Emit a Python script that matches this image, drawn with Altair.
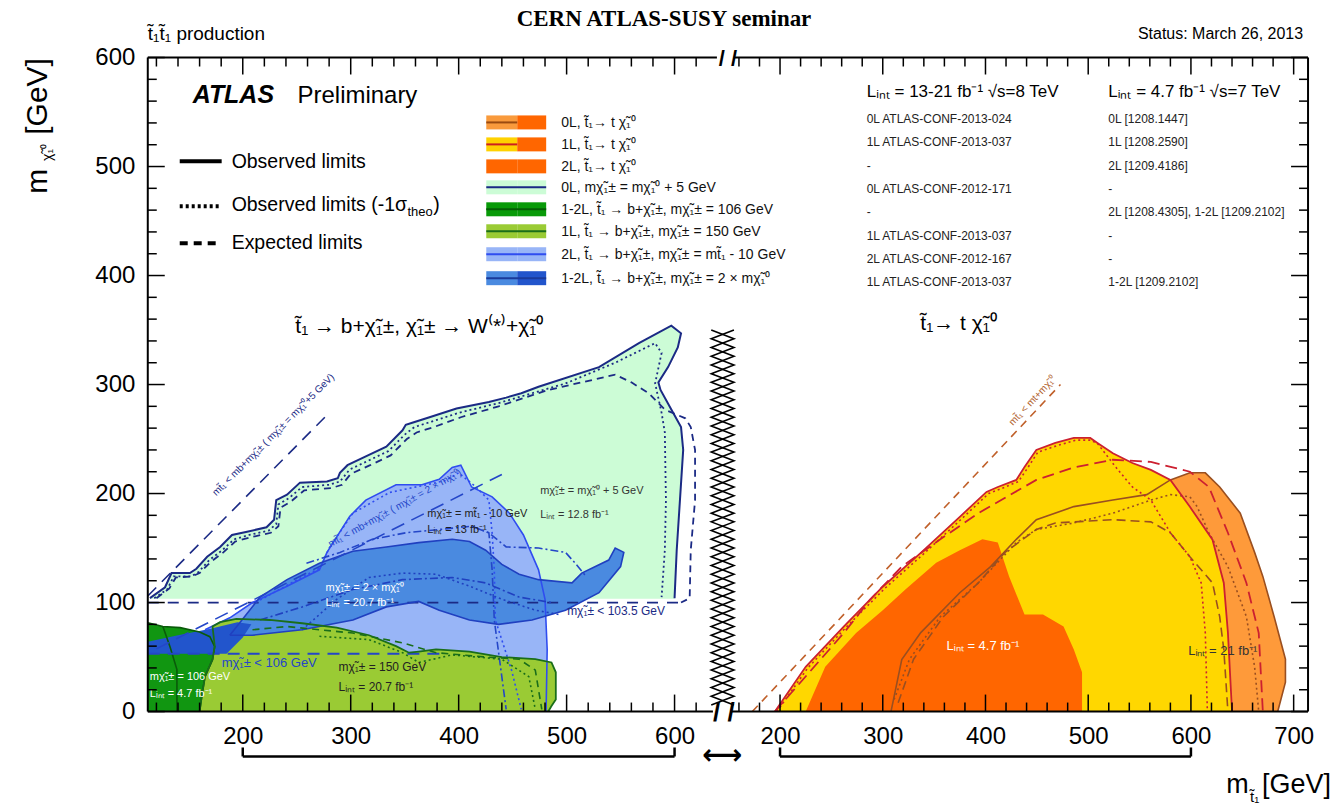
import altair as alt
import pandas as pd

SANS = "Liberation Sans"
SERIF = "Liberation Serif"

# ---------------------------------------------------------------------------
# Left panel: stop -> b + chargino, (m_stop, m_lsp) in GeV
# ---------------------------------------------------------------------------
# 0L, m(chargino) = m(LSP) + 5 GeV  (light green)
GREEN0L_OBS = [(114, 104), (128, 114), (134, 127), (142, 127), (151, 127), (157, 131), (167, 142),
               (179, 151), (190, 162), (204, 165), (222, 169), (229, 176), (231, 194), (241, 199),
               (253, 210), (278, 211), (288, 214), (290, 219), (297, 226), (314, 234), (333, 243),
               (348, 258), (351, 263), (357, 265), (373, 270), (398, 278), (428, 284), (444, 288),
               (458, 292), (474, 298), (530, 316), (567, 338), (597, 354), (606, 347), (603, 334),
               (594, 316), (585, 302), (587, 295), (597, 277), (606, 261), (608, 240), (605, 194),
               (602, 148), (600, 104)]
GREEN0L_FILL_BASE = [(600, 103.5), (114, 103.5)]
GREEN0L_M1S = [(118, 104), (130, 112), (136, 124), (152, 124), (159, 128), (169, 139), (181, 148),
               (192, 158), (206, 162), (224, 166), (231, 172), (233, 190), (243, 196), (255, 206),
               (280, 208), (290, 211), (299, 222), (316, 230), (335, 239), (350, 254), (359, 261),
               (375, 266), (400, 274), (437, 283), (499, 301), (545, 320), (582, 338), (588, 329),
               (582, 301), (588, 274), (591, 256), (592, 194), (591, 148), (588, 105)]
GREEN0L_EXP = [(120, 104), (132, 113), (138, 123), (153, 124), (160, 127), (170, 137), (182, 146),
               (193, 156), (208, 160), (226, 164), (233, 170), (235, 187), (245, 193), (257, 203),
               (282, 205), (292, 208), (300, 218), (318, 226), (337, 235), (352, 250), (361, 256),
               (377, 261), (402, 270), (437, 280), (483, 295), (514, 302), (545, 309), (560, 302),
               (576, 292), (591, 277), (610, 269), (615, 261), (619, 240), (619, 194), (615, 148),
               (614, 104), (606, 100)]
LEP_CHARGINO_0L = [(112, 100), (606, 100)]
KIN_0L = [(112, 106), (280, 274)]

# 2L, m(chargino) = m(stop) - 10 GeV  (light blue)
LB_OBS = [(165, 75), (188, 86), (209, 100), (241, 115), (271, 130), (278, 146), (299, 179),
          (314, 194), (342, 208), (366, 208), (382, 213), (394, 224), (402, 226), (412, 206),
          (431, 197), (447, 182), (460, 162), (474, 130), (480, 103), (482, 57), (481, 0)]
LB_FILL_BASE = [(253, 0)]
LB_M1S = [(212, 100), (245, 118), (272, 132), (280, 150), (302, 182), (336, 201), (370, 208),
          (388, 212), (400, 219), (416, 206), (428, 194), (431, 164), (433, 130), (434, 84),
          (449, 38), (458, 2)]
LB_EXP = [(259, 136), (290, 146), (320, 158), (351, 164), (382, 167), (412, 170), (428, 164),
          (444, 151), (474, 150), (499, 146), (508, 136), (518, 124)]
LB_EXP_B = [(412, 170), (428, 164), (431, 130), (433, 84), (444, 2)]

# 1-2L, m(chargino) = 2 x m(LSP)  (medium blue)
MB_OBS = [(188, 70), (216, 105), (241, 121), (271, 136), (302, 147), (333, 151), (363, 155),
          (394, 158), (410, 156), (425, 148), (440, 135), (456, 126), (474, 121), (505, 118),
          (514, 127), (539, 139), (545, 150), (553, 146), (550, 133), (530, 109), (499, 93),
          (468, 84), (437, 80), (410, 84), (382, 93), (363, 101), (333, 96), (302, 84),
          (255, 75), (209, 70)]
MB_M1S = [(255, 75), (287, 103), (317, 123), (348, 127), (379, 126), (410, 115), (440, 103),
          (471, 93), (493, 89)]
MB_EXP = [(216, 84), (255, 96), (302, 112), (348, 121), (394, 123), (425, 118), (456, 105),
          (486, 100)]
LEP_CHARGINO_2X = [(112, 53), (385, 53)]
KIN_2X = [(120, 57.5), (440, 217.5)]
DB_7TEV = [(112, 53), (112, 64), (140, 70), (170, 76), (195, 82), (208, 80), (200, 68), (185, 53)]

# 1-2L, m(chargino) = 106 GeV, 4.7 fb-1 (dark green)
DG_OBS = [(112, 81.5), (126, 78), (142, 77), (160, 73), (169.5, 68.7), (174, 59.5), (172, 47.6),
          (165, 32), (162, 14), (160, 0), (112, 0)]
DG_INNER = [(126, 78), (132.6, 59.5), (139, 38.5), (139, 0)]

# 1L, m(chargino) = 150 GeV (yellow-green)
YG_OBS = [(160, 0), (162, 14), (165, 32), (172, 48), (174, 60), (172, 78), (179, 82), (194, 85),
          (225, 84), (255, 81), (287, 77), (317, 70), (342, 60), (354, 54), (363, 55), (379, 57),
          (410, 55), (440, 50), (471, 48), (486, 45), (490, 36), (490, 11), (486, 5), (483, 0)]
YG_EXP = [(209, 75), (241, 78), (271, 75), (302, 72), (348, 63), (379, 54), (425, 50), (456, 48),
          (471, 38), (477, 2)]
YG_M1S = [(271, 69), (317, 66), (348, 54), (363, 45), (394, 52), (440, 48), (465, 32), (471, 2)]

# ---------------------------------------------------------------------------
# Right panel: stop -> t + LSP
# ---------------------------------------------------------------------------
OR0L_OBS = [(308, 0), (318.5, 47.6), (337, 72.4), (375, 109), (405, 133), (430, 158),
            (449.5, 176), (486, 188), (524, 194), (557, 199), (580, 212.5), (599, 219),
            (614, 219), (628, 206), (648, 182), (662, 146), (670, 124), (681, 87), (692, 48),
            (692, 27), (684.5, 0)]
OR0L_M1S = [(311, 11), (326, 48), (356, 87), (393, 118), (430, 155), (449.5, 167), (486, 173),
            (524, 182), (561, 194), (580, 199), (599, 197), (606, 188), (617.5, 164), (636, 133),
            (654, 87), (662, 41), (666, 0)]
OR0L_EXP = [(315, 8), (330, 48), (359, 87), (393, 118), (419, 146), (449.5, 167), (468, 173),
            (524, 176), (561, 174), (580, 164), (599, 142), (621, 118), (628, 87), (632, 57),
            (636, 0)]
YE1L_OBS = [(195, 0), (225, 41), (262, 78), (300, 114.5), (337, 145.6), (375, 178.6),
            (401, 201.5), (412, 206), (430, 212.5), (438, 224.4), (449.5, 240), (468, 246.4),
            (486, 251), (502, 251), (509, 246.4), (524, 237), (543, 228), (561, 221.7),
            (580, 212.5), (599, 187.8), (621, 157.6), (632, 118), (636, 72.4), (640, 0)]
YE1L_M1S = [(197, 0), (227, 40), (264, 77), (302, 113), (339, 144), (377, 177), (403, 200),
            (414, 204), (432, 211), (440, 222), (451, 238), (470, 244), (488, 249), (502, 249),
            (509, 246), (527, 224), (543, 206), (561, 194), (580, 164), (599, 142), (610, 118),
            (614, 72), (616, 0)]
YE1L_EXP = [(195, 0), (262, 72), (288, 103), (318.5, 133), (356, 158), (393, 182),
            (449.5, 212.5), (486, 224), (524, 231), (561, 229), (599, 220), (617.5, 206),
            (636, 164), (654, 118), (666, 72), (670, 0)]
DO_7TEV = [(225, 0), (244, 41), (274, 72), (300, 93), (322, 112), (352, 136.5), (375, 148),
           (397, 158), (412, 155), (423, 124), (438, 89), (456, 89), (476, 78), (486, 57),
           (494, 36), (494, 0)]
KIN_TOP = [(173, 0), (473, 300)]

# axis ticks
LEFT_MAJOR = [200, 300, 400, 500, 600]
LEFT_MINOR = [v for v in range(120, 640, 20) if v % 100]
RIGHT_MAJOR = [200, 300, 400, 500, 600, 700]
RIGHT_MINOR = [v for v in range(160, 714, 20) if v % 100]
Y_MAJOR = [0, 100, 200, 300, 400, 500, 600]
Y_MINOR = [v for v in range(20, 600, 20) if v % 100]

# legend of the coloured bands: (left colour, right colour, line colour, line over left half only)
LEGEND_SWATCH = [
    ("#f99a3c", "#ff6600", "#9a4a10", True),
    ("#ffd200", "#ff6600", "#cc2020", True),
    ("#ff6600", "#ff6600", None, False),
    ("#ccfcd6", "#ccfcd6", "#1b2a85", False),
    ("#089a08", "#089a08", "#045c04", False),
    ("#9acb34", "#9acb34", "#1a6e1a", False),
    ("#98b5f7", "#98b5f7", "#2f4df0", False),
    ("#4a8ae0", "#2255cc", "#1a3a9a", False),
]
LEGEND_TEXT = [
    "0L, t̃₁→ t χ̃₁⁰",
    "1L, t̃₁→ t χ̃₁⁰",
    "2L, t̃₁→ t χ̃₁⁰",
    "0L, mχ̃₁± = mχ̃₁⁰ + 5 GeV",
    "1-2L, t̃₁ → b+χ̃₁±, mχ̃₁± = 106 GeV",
    "1L, t̃₁ → b+χ̃₁±, mχ̃₁± = 150 GeV",
    "2L, t̃₁ → b+χ̃₁±, mχ̃₁± = mt̃₁ - 10 GeV",
    "1-2L, t̃₁ → b+χ̃₁±, mχ̃₁± = 2 × mχ̃₁⁰",
]
REF_8TEV = ["0L ATLAS-CONF-2013-024", "1L ATLAS-CONF-2013-037", "-", "0L ATLAS-CONF-2012-171",
            "-", "1L ATLAS-CONF-2013-037", "2L ATLAS-CONF-2012-167", "1L ATLAS-CONF-2013-037"]
REF_7TEV = ["0L [1208.1447]", "1L [1208.2590]", "2L [1209.4186]", "-",
            "2L [1208.4305], 1-2L [1209.2102]", "-", "-", "1-2L [1209.2102]"]

LEFT_W, RIGHT_W, H = 560, 572, 655
LEFT_DOMAIN = [112, 630]
RIGHT_DOMAIN = [158, 714]

NAVY = "#1b2a85"
BLUE = "#2f4df0"
BLUE2 = "#2446c8"
RED = "#cc2030"
BROWN = "#9a4f20"
DKGREEN = "#1a6e1a"

ONE = alt.Data(values=[{}])


def table(pts):
    return pd.DataFrame({"m_stop": [p[0] for p in pts],
                         "m_lsp": [p[1] for p in pts],
                         "k": list(range(len(pts)))})


def encoders(domain, x_values, show_y):
    label_style = dict(labelFont=SANS, labelFontSize=24, labelColor="black", ticks=False,
                       domain=False, grid=False, title=None, labelFlush=False)
    x = alt.X("m_stop:Q", scale=alt.Scale(domain=domain, nice=False, zero=False),
              axis=alt.Axis(values=x_values, labelPadding=13, **label_style))
    if show_y:
        yax = alt.Axis(values=Y_MAJOR, labelPadding=13, **label_style)
    else:
        yax = None
    y = alt.Y("m_lsp:Q", scale=alt.Scale(domain=[0, 600], nice=False, zero=False), axis=yax)
    return x, y


LX, LY = encoders(LEFT_DOMAIN, LEFT_MAJOR, True)
RX, RY = encoders(RIGHT_DOMAIN, RIGHT_MAJOR, False)


def region(pts, color, x, y):
    return alt.Chart(table(pts)).mark_line(
        interpolate="linear-closed", fill=color, strokeOpacity=0, clip=True
    ).encode(x=x, y=y, order="k:Q")


def curve(pts, color, x, y, width=1.6, dash=None, clip=True):
    kw = dict(color=color, strokeWidth=width, clip=clip)
    if dash:
        kw["strokeDash"] = dash
    return alt.Chart(table(pts)).mark_line(**kw).encode(x=x, y=y, order="k:Q")


def text(s, x, y, size=12, color="black", font=SANS, weight="normal", style="normal",
         align="left", baseline="alphabetic", angle=0):
    return alt.Chart(ONE).mark_text(
        text=s, x=x, y=y, fontSize=size, color=color, font=font, fontWeight=weight,
        fontStyle=style, align=align, baseline=baseline, angle=angle)


def hline(x1, x2, y, color="black", width=2.0, dash=None):
    kw = dict(color=color, strokeWidth=width)
    if dash:
        kw["strokeDash"] = dash
    return alt.Chart(ONE).mark_rule(**kw).encode(
        x=alt.value(x1), x2=alt.value(x2), y=alt.value(y))


def vline(x, y1, y2, color="black", width=2.0):
    return alt.Chart(ONE).mark_rule(color=color, strokeWidth=width).encode(
        x=alt.value(x), y=alt.value(y1), y2=alt.value(y2))


def xticks(vals, length, x, top):
    df = pd.DataFrame({"m_stop": vals})
    y1, y2 = (0, length) if top else (H, H - length)
    return alt.Chart(df).mark_rule(color="black", strokeWidth=1.5).encode(
        x=x, y=alt.value(y1), y2=alt.value(y2))


def yticks(vals, length, y, at_x, inward):
    df = pd.DataFrame({"m_lsp": vals})
    return alt.Chart(df).mark_rule(color="black", strokeWidth=1.5).encode(
        y=y, x=alt.value(at_x), x2=alt.value(at_x + inward * length))


def bracket(x, y_px):
    df = pd.DataFrame({"m_stop": [200], "m_end": [600]})
    bar = alt.Chart(df).mark_rule(color="black", strokeWidth=2.5).encode(
        x=x, x2="m_end:Q", y=alt.value(y_px))
    ends = alt.Chart(pd.DataFrame({"m_stop": [200, 600]})).mark_rule(
        color="black", strokeWidth=2.5).encode(x=x, y=alt.value(y_px - 9), y2=alt.value(y_px))
    return [bar, ends]


def anchor(x, y):
    return alt.Chart(ONE).mark_rect(opacity=0).encode(
        x=alt.value(x), x2=alt.value(x + 1), y=alt.value(y), y2=alt.value(y + 1))


# ---------------------------------------------------------------------------
# break marker between the two panels: column of crosses
# ---------------------------------------------------------------------------
ZZ_Y = list(range(6, 352, 8))
ZIG_A = [(634 if i % 2 == 0 else 655, v) for i, v in enumerate(ZZ_Y)]
ZIG_B = [(655 if i % 2 == 0 else 634, v) for i, v in enumerate(ZZ_Y)]

# ---------------------------------------------------------------------------
# left panel
# ---------------------------------------------------------------------------
left_layers = [
    anchor(-148, -57),
    region(GREEN0L_OBS + GREEN0L_FILL_BASE, "#ccfcd6", LX, LY),
    region(LB_OBS + LB_FILL_BASE, "#98b5f7", LX, LY),
    region(YG_OBS, "#9acb34", LX, LY),
    region(MB_OBS, "#4a8ae0", LX, LY),
    region(DG_OBS, "#119611", LX, LY),
    region(DB_7TEV, "#2255cc", LX, LY),
    curve(DG_INNER, "#0a5a0a", LX, LY, 1.6),
    curve(DG_OBS[:-1], "#0a5a0a", LX, LY, 1.6),
    curve(GREEN0L_OBS, NAVY, LX, LY, 2.0),
    curve(GREEN0L_M1S, NAVY, LX, LY, 1.8, [2, 3]),
    curve(GREEN0L_EXP, NAVY, LX, LY, 1.8, [7, 5]),
    curve(LEP_CHARGINO_0L, NAVY, LX, LY, 1.8, [11, 9]),
    curve(KIN_0L, NAVY, LX, LY, 1.6, [12, 8]),
    curve(LB_OBS, BLUE, LX, LY, 1.6),
    curve(LB_M1S, BLUE, LX, LY, 1.6, [2, 3]),
    curve(LB_EXP, BLUE2, LX, LY, 1.6, [8, 3, 2, 3]),
    curve(LB_EXP_B, BLUE2, LX, LY, 1.6, [8, 3, 2, 3]),
    curve(MB_OBS + MB_OBS[:1], "#2040c0", LX, LY, 1.6),
    curve(MB_M1S, "#2040c0", LX, LY, 1.6, [2, 3]),
    curve(MB_EXP, "#2040c0", LX, LY, 1.6, [8, 3, 2, 3]),
    curve(LEP_CHARGINO_2X, "#2446c8", LX, LY, 1.8, [12, 8]),
    curve(KIN_2X, "#2446c8", LX, LY, 1.6, [14, 8]),
    curve(YG_OBS, DKGREEN, LX, LY, 1.8),
    curve(YG_EXP, DKGREEN, LX, LY, 1.6, [7, 5]),
    curve(YG_M1S, DKGREEN, LX, LY, 1.6, [2, 3]),
    curve(ZIG_A, "black", LX, LY, 1.6, clip=False),
    curve(ZIG_B, "black", LX, LY, 1.6, clip=False),
]

# in-plot annotations, left panel
left_layers += [
    text("mχ̃₁± = mχ̃₁⁰ + 5 GeV", 393, 437, 11, "#333333"),
    text("Lᵢₙₜ = 12.8 fb⁻¹", 393, 461, 11, "#333333"),
    text("mχ̃₁± = mt̃₁ - 10 GeV", 280, 460, 11, "#222222"),
    text("Lᵢₙₜ = 13 fb⁻¹", 280, 476, 11, "#222222"),
    text("mχ̃₁± = 2 × mχ̃₁⁰", 178, 534, 11, "white"),
    text("Lᵢₙₜ = 20.7 fb⁻¹", 178, 549, 11, "white"),
    text("mχ̃₁± < 106 GeV", 74, 610, 13, "#2446c8"),
    text("mχ̃₁± = 150 GeV", 191, 614, 12, "#222222"),
    text("Lᵢₙₜ = 20.7 fb⁻¹", 191, 634, 12, "#222222"),
    text("mχ̃₁± = 106 GeV", 2, 623, 11, "white"),
    text("Lᵢₙₜ = 4.7 fb⁻¹", 2, 640, 11, "white"),
    text("mχ̃₁± < 103.5 GeV", 420, 558, 12, NAVY),
    text("mt̃₁ < mb+mχ̃₁± ( mχ̃₁± = mχ̃₁⁰+5 GeV)", 128, 380, 10, NAVY,
         align="center", angle=315),
    text("mt̃₁ < mb+mχ̃₁± ( mχ̃₁± = 2 × mχ̃₁⁰)", 249, 454, 10, "#2446c8",
         align="center", angle=331),
    text("t̃₁ → b+χ̃₁±, χ̃₁± → W⁽*⁾+χ̃₁⁰", 272, 276, 21, align="center"),
]

# header, legend, titles
left_layers += [
    text("t̃₁t̃₁ production", 0, -18, 19),
    text("CERN ATLAS-SUSY seminar", 517, -32, 23, font=SERIF, weight="bold", align="center"),
    text("ATLAS", 45, 46, 25, weight="bold", style="italic"),
    text("Preliminary", 150, 46, 24),
    hline(32, 74, 104, width=4),
    hline(32, 74, 149, width=4, dash=[3, 3]),
    hline(32, 74, 186, width=4, dash=[8, 6]),
    text("Observed limits", 84, 111, 19.5),
    text("Observed limits (-1σ", 84, 154, 19.5),
    text("theo", 260, 159, 13),
    text(")", 286, 154, 19.5),
    text("Expected limits", 84, 192, 19.5),
    text("[GeV]", -110, 39, 30, align="center", baseline="middle", angle=270),
    text("m", -110, 124, 30, align="center", baseline="middle", angle=270),
    text("χ̃₁⁰", -100, 95, 14, align="center", baseline="middle", angle=270),
]
ROW_Y = [65, 87, 109, 130, 152, 174, 197, 221]
for (lc, rc, line, half), label, yc in zip(LEGEND_SWATCH, LEGEND_TEXT, ROW_Y):
    left_layers.append(alt.Chart(ONE).mark_rect(color=lc).encode(
        x=alt.value(339), x2=alt.value(370), y=alt.value(yc - 7), y2=alt.value(yc + 7)))
    left_layers.append(alt.Chart(ONE).mark_rect(color=rc).encode(
        x=alt.value(370), x2=alt.value(399), y=alt.value(yc - 7), y2=alt.value(yc + 7)))
    if line:
        left_layers.append(hline(339, 370 if half else 399, yc, color=line, width=2))
    left_layers.append(text(label, 414, yc + 5, 14, "#111111"))

# frame, ticks, break symbols, bracket
left_layers += [
    vline(0, 0, H),
    hline(0, 566, H),
    hline(0, 570, 0),
    xticks(LEFT_MAJOR, 17, LX, False), xticks(LEFT_MINOR, 9, LX, False),
    xticks(LEFT_MAJOR, 17, LX, True), xticks(LEFT_MINOR, 9, LX, True),
    yticks(Y_MAJOR, 17, LY, 0, 1), yticks(Y_MINOR, 9, LY, 0, 1),
    text("/ /", 577, 656, 26, weight="bold", align="center", baseline="middle"),
    text("/ /", 581, 1, 22, weight="bold", align="center", baseline="middle"),
    text("⟷", 575, 700, 28, font="DejaVu Sans", weight="bold", align="center",
         baseline="middle"),
] + bracket(LX, 700)

# ---------------------------------------------------------------------------
# right panel
# ---------------------------------------------------------------------------
right_layers = [
    anchor(593, 752),
    region(OR0L_OBS, "#fe9a3a", RX, RY),
    region(YE1L_OBS, "#ffd700", RX, RY),
    region(DO_7TEV, "#ff6600", RX, RY),
    curve(OR0L_OBS, BROWN, RX, RY, 1.6),
    curve(OR0L_M1S, BROWN, RX, RY, 1.6, [2, 3]),
    curve(OR0L_EXP, BROWN, RX, RY, 1.6, [9, 5]),
    curve(YE1L_OBS, RED, RX, RY, 1.8),
    curve(YE1L_M1S, RED, RX, RY, 1.6, [2, 3]),
    curve(YE1L_EXP, RED, RX, RY, 1.8, [12, 6]),
    curve(KIN_TOP, "#c0602a", RX, RY, 1.6, [8, 6]),
    text("mt̃₁ < mt+mχ̃₁⁰", 298, 346, 10, "#b0602a", align="center", angle=313),
    text("Lᵢₙₜ = 4.7 fb⁻¹", 210, 593, 13, "white"),
    text("Lᵢₙₜ = 21 fb⁻¹", 452, 598, 13, "#333333"),
    text("t̃₁→ t χ̃₁⁰", 222, 273, 21, align="center"),
    text("Status: March 26, 2013", 567, -19, 16, align="right"),
    text("Lᵢₙₜ = 13-21 fb⁻¹ √s=8 TeV", 130, 40, 17),
    text("Lᵢₙₜ = 4.7 fb⁻¹ √s=7 TeV", 372, 40, 17),
    text("m", 490, 737, 27),
    text("t̃₁", 514, 746, 15),
    text("[GeV]", 526, 737, 27),
]
REF_Y = [66, 89, 113, 136, 159, 183, 206, 229]
for a, b, yb in zip(REF_8TEV, REF_7TEV, REF_Y):
    right_layers.append(text(a, 130, yb, 12, "#222222"))
    right_layers.append(text(b, 372, yb, 12, "#222222"))

right_layers += [
    vline(RIGHT_W, 0, H),
    hline(-5, RIGHT_W, H),
    hline(-3, RIGHT_W, 0),
    xticks(RIGHT_MAJOR, 17, RX, False), xticks(RIGHT_MINOR, 9, RX, False),
    xticks(RIGHT_MAJOR, 17, RX, True), xticks(RIGHT_MINOR, 9, RX, True),
    yticks(Y_MAJOR, 17, RY, RIGHT_W, -1), yticks(Y_MINOR, 9, RY, RIGHT_W, -1),
] + bracket(RX, 700)

NO_FRAME = alt.ViewBackground(stroke="transparent", strokeWidth=0)

left = alt.layer(*left_layers).properties(width=LEFT_W, height=H, view=NO_FRAME)
right = alt.layer(*right_layers).properties(width=RIGHT_W, height=H, view=NO_FRAME)

chart = alt.hconcat(left, right, spacing=30, bounds="flush").properties(
    padding=0
).configure_view(stroke="transparent", strokeWidth=0).configure(background="white")

chart.save("out.html", embed_options={"renderer": "svg", "actions": False})
